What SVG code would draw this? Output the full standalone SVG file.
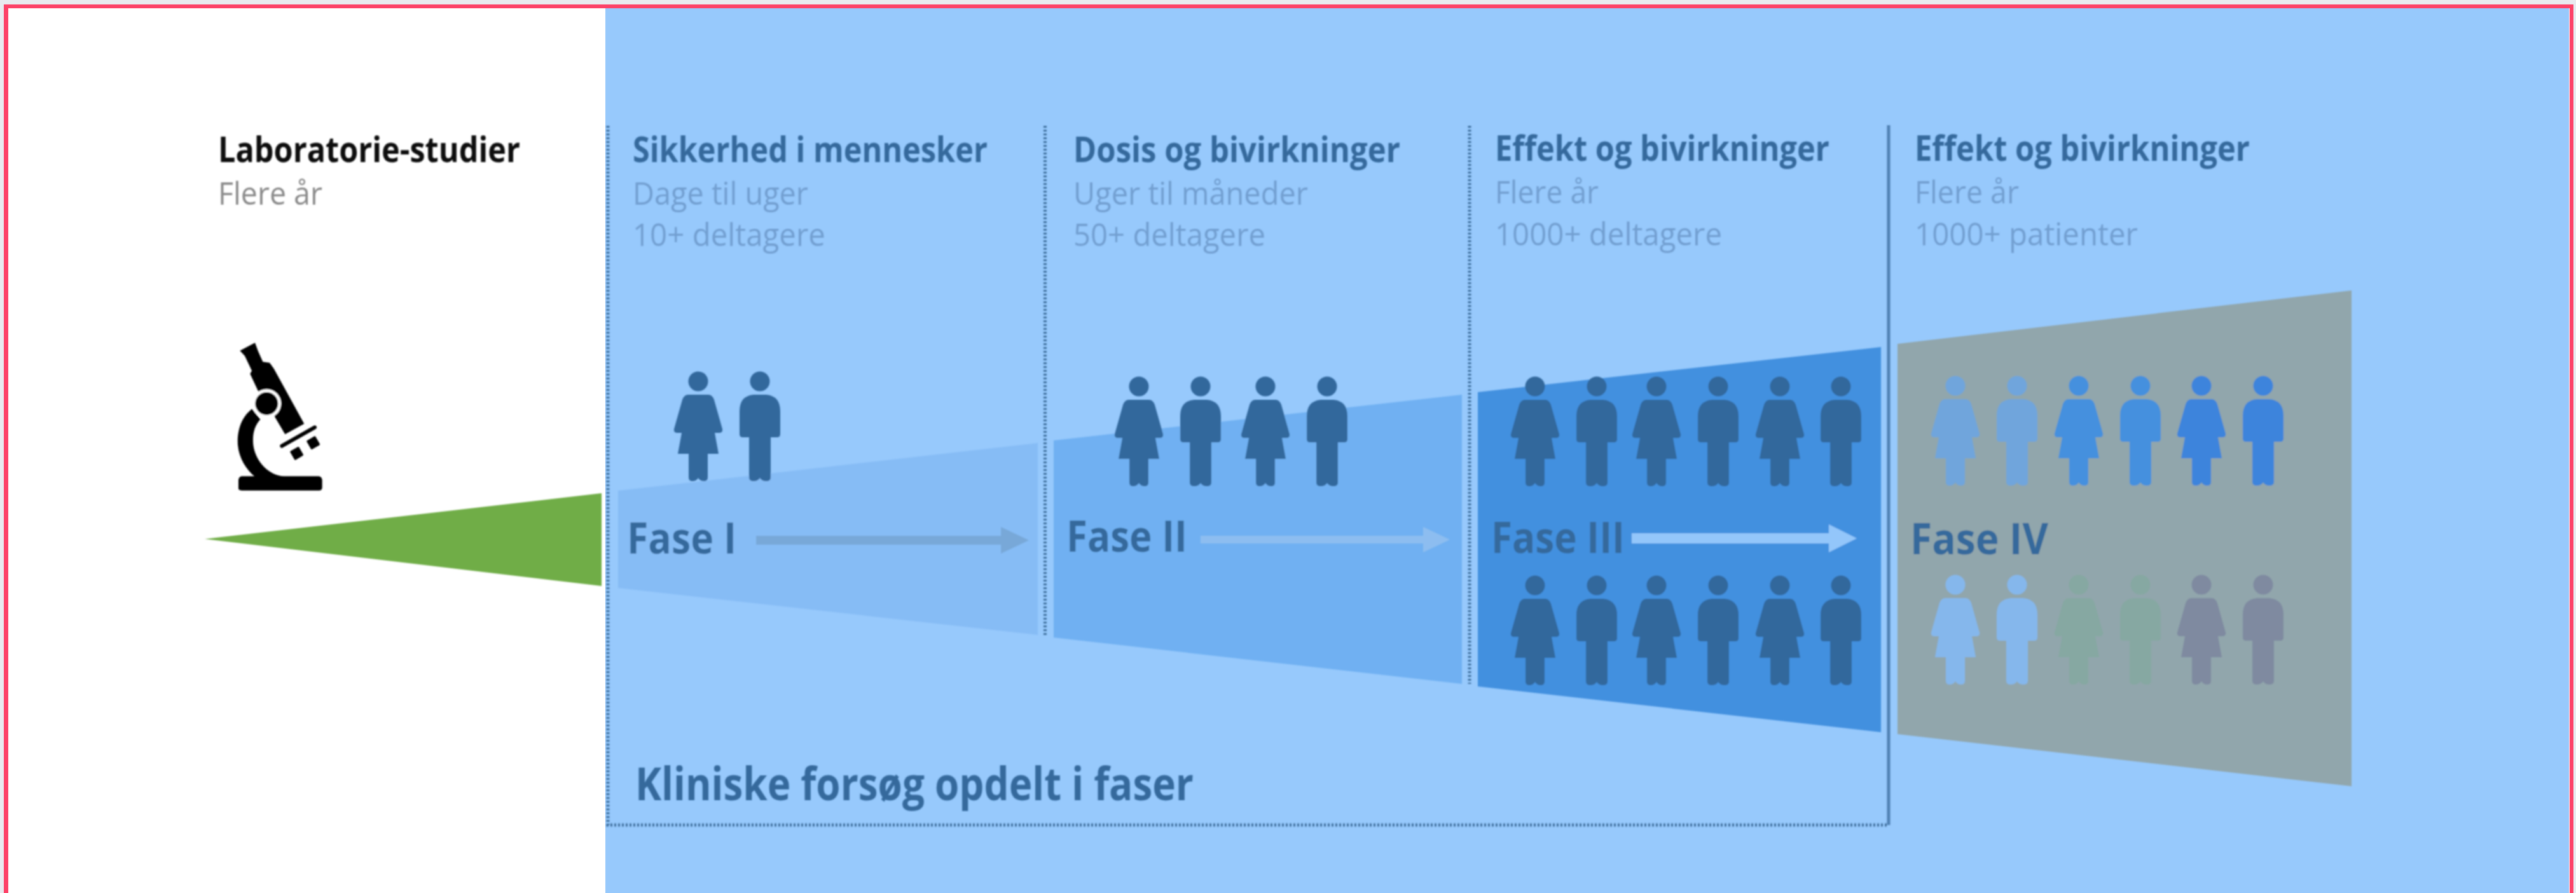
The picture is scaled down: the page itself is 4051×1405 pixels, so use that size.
<svg xmlns="http://www.w3.org/2000/svg" xmlns:xlink="http://www.w3.org/1999/xlink" width="4051" height="1405" viewBox="0 0 4051 1405">
<style>
text{font-family:"Open Sans","Noto Sans","Liberation Sans",sans-serif}
.t{font-size:55px;font-weight:700;fill:#35699c}
.s{font-size:49px;fill:#729fd0}
.f{font-size:68px;font-weight:700;fill:#35699c}
.p{fill:#33689c}
.dot{fill:none;stroke:#41719f;stroke-width:5;stroke-dasharray:3 3}
</style>
<defs>
<filter id="soft" x="-2%" y="-2%" width="104%" height="104%"><feGaussianBlur stdDeviation="1.3"/></filter>
<g id="woman"><circle cx="0" cy="15" r="15.5"/><path d="M-16,36H16Q22,36 25,44L38,90Q39,96 33,96H26L32,129H15V166Q15,172 9,172Q3,172 0,167Q-3,172 -9,172Q-15,172 -15,166V129H-32L-26,96H-33Q-39,96 -38,90L-25,44Q-22,36 -16,36Z"/></g>
<g id="man"><circle cx="0" cy="15" r="15.5"/><path d="M-10,36H10Q32,38 32,62V98Q32,103 27,103H17V166Q17,172 10,172Q3,172 0,167Q-3,172 -10,172Q-17,172 -17,166V103H-27Q-32,103 -32,98V62Q-32,38 -10,36Z"/></g>
</defs>
<rect id="page" width="4051" height="1405" fill="#e9eaef"/>
<rect x="6" y="7" width="4041" height="1398" fill="#fd4268"/>
<rect x="13" y="13" width="4028" height="1392" fill="#ffffff"/>
<rect id="band" x="952" y="13" width="3088" height="1392" fill="#97c9fc"/>
<g filter="url(#soft)">
<g id="laboratorie">
<polygon points="322,848 946,776 946,922" fill="#70ad47"/>
<g transform="translate(300,500) scale(0.3333)" fill="#000">
<path d="M290,430C235,470 218,540 222,600C228,665 262,715 300,748H240Q225,750 225,770V805Q225,815 240,815H605Q620,815 620,800V765Q618,748 600,748H440C370,745 305,680 295,600C290,550 300,510 328,480Z"/>
<path d="M232,155L303,118L318,158L340,208L372,212L392,240L535,500L445,550L395,465L320,350L280,265L288,250L255,180Z"/>
<circle cx="358" cy="405" r="68" fill="#fff"/><circle cx="358" cy="405" r="54"/>
<path d="M430,605L585,517" stroke="#000" stroke-width="18" stroke-linecap="round" fill="none"/>
<rect x="-24" y="-24" width="48" height="48" rx="5" transform="translate(500,640) rotate(-30)"/>
<rect x="-24" y="-24" width="48" height="48" rx="5" transform="translate(578,590) rotate(-30)"/>
</g>
<text x="343" y="255" font-size="55" font-weight="700" fill="#111" textLength="475" lengthAdjust="spacingAndGlyphs">Laboratorie-studier</text>
<text x="343" y="322" font-size="49" fill="#8a8a8a" textLength="164" lengthAdjust="spacingAndGlyphs">Flere år</text>
</g>
<g id="fase-1">
<polygon points="972,772 1632,697 1632,999 972,925" fill="#86bcf5"/>
<use xlink:href="#woman" href="#woman" x="1098" y="585" class="p"/><use xlink:href="#man" href="#man" x="1195" y="585" class="p"/>
<text class="t" x="995" y="255" textLength="558" lengthAdjust="spacingAndGlyphs">Sikkerhed i mennesker</text>
<text class="s" x="995" y="322" textLength="276" lengthAdjust="spacingAndGlyphs">Dage til uger</text>
<text class="s" x="995" y="387" textLength="303" lengthAdjust="spacingAndGlyphs">10+ deltagere</text>
<text class="f" x="986" y="871" textLength="172" lengthAdjust="spacingAndGlyphs">Fase I</text>
</g>
<g id="fase-2">
<polygon points="1657,693 2299,621 2299,1076 1657,1003" fill="#6fb0f2"/>
<use xlink:href="#woman" href="#woman" x="1791" y="593" class="p"/><use xlink:href="#man" href="#man" x="1888" y="593" class="p"/><use xlink:href="#woman" href="#woman" x="1990" y="593" class="p"/><use xlink:href="#man" href="#man" x="2087" y="593" class="p"/>
<text class="t" x="1688" y="255" textLength="514" lengthAdjust="spacingAndGlyphs">Dosis og bivirkninger</text>
<text class="s" x="1688" y="322" textLength="369" lengthAdjust="spacingAndGlyphs">Uger til måneder</text>
<text class="s" x="1688" y="387" textLength="302" lengthAdjust="spacingAndGlyphs">50+ deltagere</text>
<text class="f" x="1677" y="868" textLength="190" lengthAdjust="spacingAndGlyphs">Fase II</text>
</g>
<g id="fase-3">
<polygon points="2324,617 2958,546 2958,1152 2324,1080" fill="#4390df"/>
<use xlink:href="#woman" href="#woman" x="2414" y="593" class="p"/><use xlink:href="#man" href="#man" x="2511" y="593" class="p"/><use xlink:href="#woman" href="#woman" x="2605" y="593" class="p"/><use xlink:href="#man" href="#man" x="2702" y="593" class="p"/><use xlink:href="#woman" href="#woman" x="2799" y="593" class="p"/><use xlink:href="#man" href="#man" x="2895" y="593" class="p"/>
<use xlink:href="#woman" href="#woman" x="2414" y="906" class="p"/><use xlink:href="#man" href="#man" x="2511" y="906" class="p"/><use xlink:href="#woman" href="#woman" x="2605" y="906" class="p"/><use xlink:href="#man" href="#man" x="2702" y="906" class="p"/><use xlink:href="#woman" href="#woman" x="2799" y="906" class="p"/><use xlink:href="#man" href="#man" x="2895" y="906" class="p"/>
<text class="t" x="2351" y="253" textLength="526" lengthAdjust="spacingAndGlyphs">Effekt og bivirkninger</text>
<text class="s" x="2351" y="320" textLength="163" lengthAdjust="spacingAndGlyphs">Flere år</text>
<text class="s" x="2351" y="386" textLength="357" lengthAdjust="spacingAndGlyphs">1000+ deltagere</text>
<text class="f" x="2345" y="870" textLength="210" lengthAdjust="spacingAndGlyphs">Fase III</text>
</g>
<g id="fase-4">
<polygon points="2984,541 3698,457 3698,1237 2984,1155" fill="#91a6ac"/>
<use xlink:href="#woman" href="#woman" x="3075" y="592" fill="#6fa5dc"/><use xlink:href="#man" href="#man" x="3172" y="592" fill="#6fa5dc"/><use xlink:href="#woman" href="#woman" x="3269" y="592" fill="#4590de"/><use xlink:href="#man" href="#man" x="3366" y="592" fill="#4590de"/><use xlink:href="#woman" href="#woman" x="3462" y="592" fill="#3d84dc"/><use xlink:href="#man" href="#man" x="3559" y="592" fill="#3d84dc"/>
<use xlink:href="#woman" href="#woman" x="3075" y="905" fill="#85b7ec"/><use xlink:href="#man" href="#man" x="3172" y="905" fill="#85b7ec"/><use xlink:href="#woman" href="#woman" x="3269" y="905" fill="#86a8a2"/><use xlink:href="#man" href="#man" x="3366" y="905" fill="#86a8a2"/><use xlink:href="#woman" href="#woman" x="3462" y="905" fill="#7f8aa0"/><use xlink:href="#man" href="#man" x="3559" y="905" fill="#7f8aa0"/>
<text class="t" x="3011" y="253" textLength="527" lengthAdjust="spacingAndGlyphs">Effekt og bivirkninger</text>
<text class="s" x="3011" y="320" textLength="164" lengthAdjust="spacingAndGlyphs">Flere år</text>
<text class="s" x="3011" y="386" textLength="351" lengthAdjust="spacingAndGlyphs">1000+ patienter</text>
<text class="f" x="3004" y="872" textLength="217" lengthAdjust="spacingAndGlyphs">Fase IV</text>
</g>
<g id="kliniske">
<text x="999" y="1259" font-size="72" font-weight="700" fill="#35699c" textLength="878" lengthAdjust="spacingAndGlyphs">Kliniske forsøg opdelt i faser</text>
</g>
<g id="connectors">
<path class="dot" d="M956,198V1298H2970"/>
<path class="dot" d="M1643.5,198V1000"/>
<path class="dot" d="M2311,198V1076"/>
<path d="M2970,197V1298" fill="none" stroke="#4f80b2" stroke-width="5"/>
<polygon points="1189,843 1574,843 1574,829 1618,850 1574,871 1574,857 1189,857" fill="#78a8d8"/>
<polygon points="1888,843 2238,843 2238,829 2280,849 2238,869 2238,855 1888,855" fill="#8dbdf0"/>
<polygon points="2566,839 2876,839 2876,825 2920,847 2876,869 2876,855 2566,855" fill="#93c6fa"/>
</g>
</g>
</svg>
